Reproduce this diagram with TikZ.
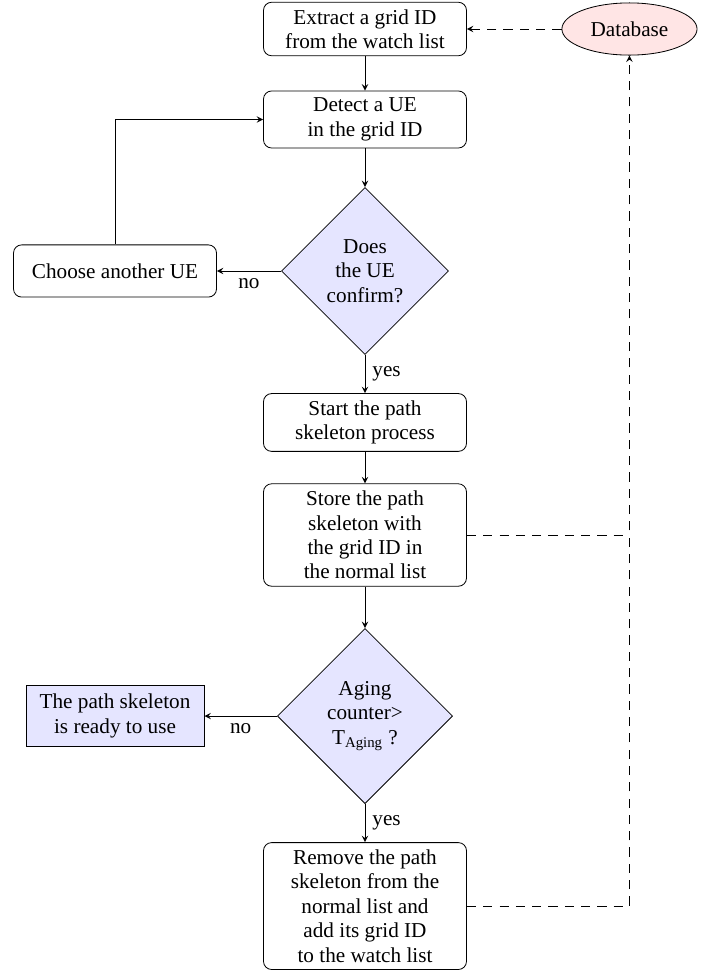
\documentclass[tikz,border=0pt]{standalone}
\usepackage{fontspec}
\setmainfont{Liberation Serif}[Scale=1.04]
\usetikzlibrary{shapes.geometric}

\begin{document}
\begin{tikzpicture}[>=stealth,
  procbox/.style={draw, rounded corners, minimum width=3.5cm, minimum height=0.9cm, align=center},
  decbox/.style={draw, diamond, aspect=1, fill=blue!10, inner sep=1pt, align=center},
  endbox/.style={draw, fill=blue!10, minimum width=3.07cm, minimum height=1.05cm, align=center},
  dbnode/.style={draw, ellipse, fill=red!10, minimum width=2.33cm, minimum height=0.9cm},
  dbline/.style={dash pattern=on 4.5pt off 3.5pt}]
\useasboundingbox (-6.293,0) rectangle (6.086,-16.741);
\node[procbox] (extract) at (0,-0.5) {Extract a grid ID\\from the watch list};
\node[dbnode] (db) at (4.56,-0.5) {Database};
\node[procbox] (detect) at (0,-2.06) {Detect a UE\\in the grid ID};
\node[decbox, minimum size=2.88cm] (dec1) at (0,-4.672) {Does\\the UE\\confirm?};
\node[procbox] (choose) at (-4.31,-4.672) {Choose another UE};
\node[procbox] (start) at (0,-7.284) {Start the path\\skeleton process};
\node[procbox] (store) at (0,-9.224) {Store the path\\skeleton with\\the grid ID in\\the normal list};
\node[decbox, minimum size=3.02cm] (dec2) at (0,-12.345) {Aging\\counter>\\T\textsubscript{Aging} ?};
\node[endbox] (ready) at (-4.31,-12.345) {The path skeleton\\is ready to use};
\node[procbox] (remove) at (0,-15.621) {Remove the path\\skeleton from the\\normal list and\\add its grid ID\\to the watch list};

\draw[->] (extract) -- (detect);
\draw[->] (detect) -- (dec1);
\draw[->] (dec1) -- node[below]{no} (choose);
\draw[->] (choose) |- (detect);
\draw[->] (dec1) -- node[right]{yes} (start);
\draw[->] (start) -- (store);
\draw[->] (store) -- (dec2);
\draw[->] (dec2) -- node[below]{no} (ready);
\draw[->] (dec2) -- node[right]{yes} (remove);
\draw[dbline,->] (db) -- (extract);
\draw[dbline] (store) -- (store -| db);
\draw[dbline,->] (remove) -| (db);
\end{tikzpicture}
\end{document}
